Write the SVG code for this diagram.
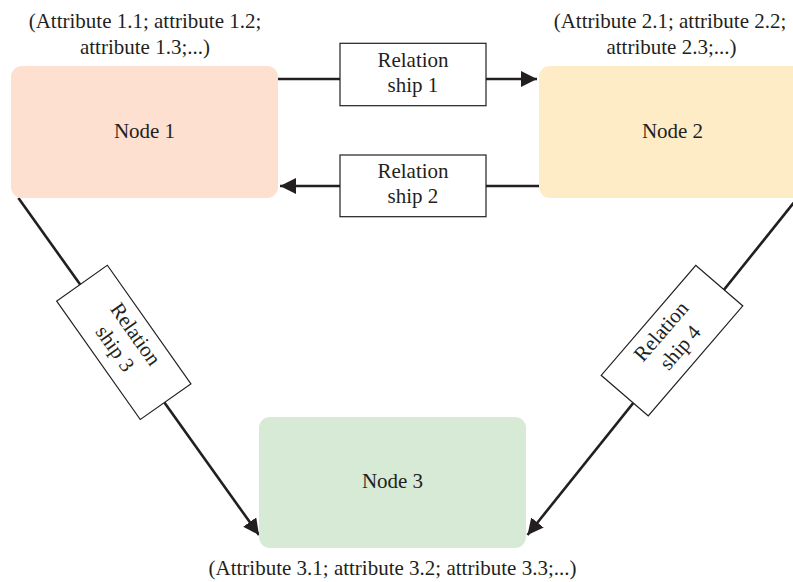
<svg xmlns="http://www.w3.org/2000/svg" width="793" height="582" viewBox="0 0 793 582">
<style>
  text { font-family: "Liberation Serif", "Times New Roman", serif; font-size: 21px; fill: #231f20; text-anchor: middle; }
  .node { stroke: none; }
  .rel { fill: #ffffff; stroke: #231f20; stroke-width: 1.2; }
  .conn { stroke: #231f20; stroke-width: 2.6; fill: none; }
</style>
<defs>
  <marker id="arrow" markerUnits="userSpaceOnUse" markerWidth="18" markerHeight="17" refX="16" refY="8" orient="auto">
    <path d="M0,0 L16,8 L0,16 Z" fill="#231f20"/>
  </marker>
</defs>

<g id="connectors">
  <line class="conn" x1="278" y1="79" x2="537" y2="79" marker-end="url(#arrow)"/>
  <line class="conn" x1="539" y1="186" x2="280" y2="186" marker-end="url(#arrow)"/>
  <line class="conn" x1="18.4" y1="198" x2="259" y2="535" marker-end="url(#arrow)"/>
  <line class="conn" x1="797.5" y1="198" x2="527.5" y2="535" marker-end="url(#arrow)"/>
</g>

<g id="node1">
  <rect class="node" x="11" y="66" width="267" height="132" rx="11" fill="#fde0d0"/>
  <text x="144.5" y="138">Node 1</text>
  <text x="145" y="28">(Attribute 1.1; attribute 1.2;</text>
  <text x="145" y="53.5">attribute 1.3;...)</text>
</g>

<g id="node2">
  <rect class="node" x="539" y="66" width="267" height="132" rx="11" fill="#fdecc5"/>
  <text x="672.5" y="138">Node 2</text>
  <text x="670" y="28">(Attribute 2.1; attribute 2.2;</text>
  <text x="671.5" y="53.5">attribute 2.3;...)</text>
</g>

<g id="node3">
  <rect class="node" x="259" y="417" width="267" height="131" rx="11" fill="#d7ead5"/>
  <text x="392.5" y="488">Node 3</text>
  <text x="392.5" y="575">(Attribute 3.1; attribute 3.2; attribute 3.3;...)</text>
</g>

<g id="rel1">
  <rect class="rel" x="340" y="43.3" width="146" height="62.4"/>
  <text x="413" y="67">Relation</text>
  <text x="413" y="92">ship 1</text>
</g>

<g id="rel2">
  <rect class="rel" x="340" y="155" width="146" height="61.7"/>
  <text x="413" y="178">Relation</text>
  <text x="413" y="203">ship 2</text>
</g>

<g id="rel3" transform="translate(123.8,342.4) rotate(54.8)">
  <rect class="rel" x="-72.5" y="-31" width="145" height="62"/>
  <text x="0" y="-7.5">Relation</text>
  <text x="0" y="17.5">ship 3</text>
</g>

<g id="rel4" transform="translate(672,340.6) rotate(-49.3)">
  <rect class="rel" x="-72.5" y="-31" width="145" height="62"/>
  <text x="0" y="-7.5">Relation</text>
  <text x="0" y="17.5">ship 4</text>
</g>
</svg>
